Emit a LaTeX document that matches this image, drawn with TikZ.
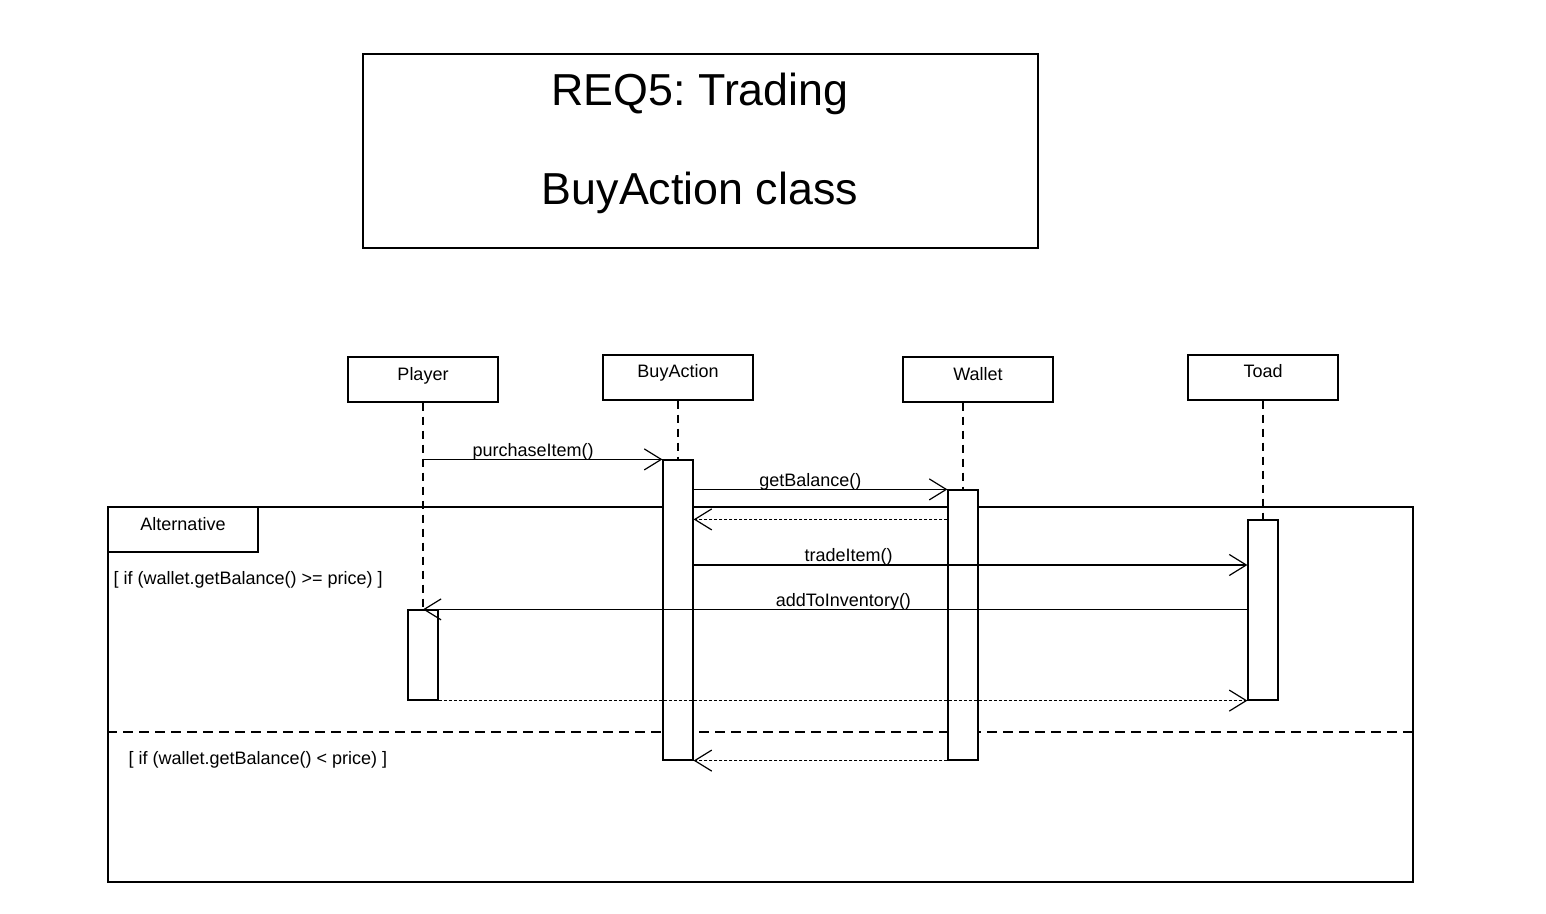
\documentclass[tikz,border=0pt]{standalone}
\usepackage{fontspec}
\setmainfont{Liberation Sans}
\usetikzlibrary{arrows.meta}
\frenchspacing

\tikzset{
  lifehead/.style={draw,minimum width=75pt,minimum height=22.5pt,inner sep=0pt,text height=6.5pt,text depth=6pt,font=\fontsize{9}{11}\selectfont},
  activation/.style={draw,fill=white,minimum width=15pt,inner sep=0pt},
  lifeline/.style={dash pattern=on 4pt off 3pt},
  msg/.style={-{Straight Barb[length=8.5pt,width=10.5pt]}},
  reply/.style={msg,dash pattern=on 1.5pt off 1pt},
  msglabel/.style={above,inner sep=1pt,yshift=-1.5pt,font=\fontsize{9}{11}\selectfont},
  guard/.style={anchor=west,inner sep=0pt,font=\fontsize{9}{11}\selectfont}
}

\begin{document}
\begin{tikzpicture}[x=0.5pt,y=-0.5pt,line width=0.6pt]
\useasboundingbox (0,0) rectangle (1546,914);

% title
\node[draw,minimum width=337.5pt,minimum height=97pt] (titleBox) at (700.5,151) {};
\node[align=center,font=\fontsize{22.4}{49.5}\selectfont] (titleText) at (700,143.5) {REQ5: Trading\\BuyAction class};

% alternative frame
\node[draw,minimum width=652.5pt,minimum height=187.5pt] (altFrame) at (760.5,694.5) {};
\node[lifehead,anchor=north west] (altLabel) at (altFrame.north west) {Alternative};
\draw[dash pattern=on 5pt off 3pt] (altFrame.west |- 0,732) -- (altFrame.east |- 0,732);
\node[guard] (guardYes) at (113,580) {[ if (wallet.getBalance() >= price) ]};
\node[guard] (guardNo) at (128,760) {[ if (wallet.getBalance() < price) ]};

% lifelines
\node[lifehead] (player) at (423,379.5) {Player};
\node[lifehead] (buyAction) at (678,377.5) {BuyAction};
\node[lifehead] (wallet) at (978,379.5) {Wallet};
\node[lifehead] (toad) at (1263,377.5) {Toad};

\node[activation,minimum height=150pt] (buyAct) at (678,610) {};
\node[activation,minimum height=135pt] (walletAct) at (963,625) {};
\node[activation,minimum height=90pt] (toadAct) at (1263,610) {};
\node[activation,minimum height=45pt] (playerAct) at (423,655) {};

\draw[lifeline] (player.south) -- (playerAct.north);
\draw[lifeline] (buyAction.south) -- (buyAct.north);
\draw[lifeline] (walletAct.north |- wallet.south) -- (walletAct.north);
\draw[lifeline] (toad.south) -- (toadAct.north);

% messages
\draw[msg] (player.south |- buyAct.north) -- node[msglabel,pos=0.46] {purchaseItem()} (buyAct.north west);
\draw[msg] (buyAct.east |- walletAct.north) -- node[msglabel,pos=0.46] {getBalance()} (walletAct.north west);
\draw[reply] (walletAct.west |- toadAct.north) -- (buyAct.east |- toadAct.north);
\draw[msg] (buyAct.east |- 0,565) -- node[msglabel,pos=0.28] {tradeItem()} (toadAct.west |- 0,565);
\draw[msg] (toadAct.west |- playerAct.north) -- node[msglabel,pos=0.49] {addToInventory()} (playerAct.north);
\draw[reply] (playerAct.south east) -- (toadAct.south west);
\draw[reply] (walletAct.south west) -- (buyAct.south east);
\end{tikzpicture}
\end{document}
